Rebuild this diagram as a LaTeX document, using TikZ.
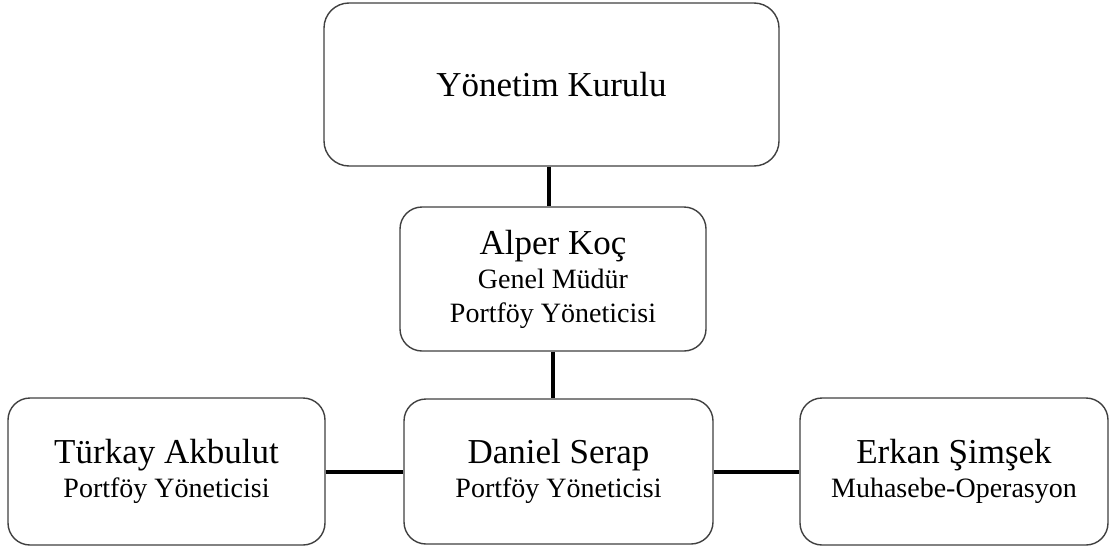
\documentclass[tikz,border=0pt]{standalone}
\usepackage{fontspec}
\setmainfont{Liberation Serif}
\begin{document}
\begin{tikzpicture}[x=1pt,y=-1pt,
  box/.style={draw=black!75, line width=1.4pt, rounded corners=22pt, fill=white,
    inner sep=0pt, align=center, font=\fontsize{28}{34}\selectfont},
  link/.style={line width=4pt, black}]
\useasboundingbox (0,0) rectangle (1109,549);
\newcommand{\nm}[1]{{\fontsize{35}{34}\selectfont #1}}
\node[box, minimum width=455pt, minimum height=163pt, rounded corners=25pt] (top) at (551.5,84.5) {\nm{Yönetim Kurulu}};
\node[box, minimum width=306pt, minimum height=144pt] (mid) at (553,279) {\nm{Alper Koç}\\Genel Müdür\\Portföy Yöneticisi};
\node[box, minimum width=317pt, minimum height=147pt] (left) at (166.5,471.5) {\nm{Türkay Akbulut}\\Portföy Yöneticisi};
\node[box, minimum width=309pt, minimum height=145pt] (dan) at (558.5,471.5) {\nm{Daniel Serap}\\Portföy Yöneticisi};
\node[box, minimum width=308pt, minimum height=147pt] (erk) at (954,471.5) {\nm{Erkan Şimşek}\\Muhasebe-Operasyon};
\coordinate (t1) at (549,0);
\draw[link] (top.south -| t1) -- (mid.north -| t1);
\draw[link] (mid.south) -- (mid.south |- dan.north);
\draw[link] (left.east) -- (dan.west);
\draw[link] (dan.east) -- (erk.west);
\end{tikzpicture}
\end{document}
